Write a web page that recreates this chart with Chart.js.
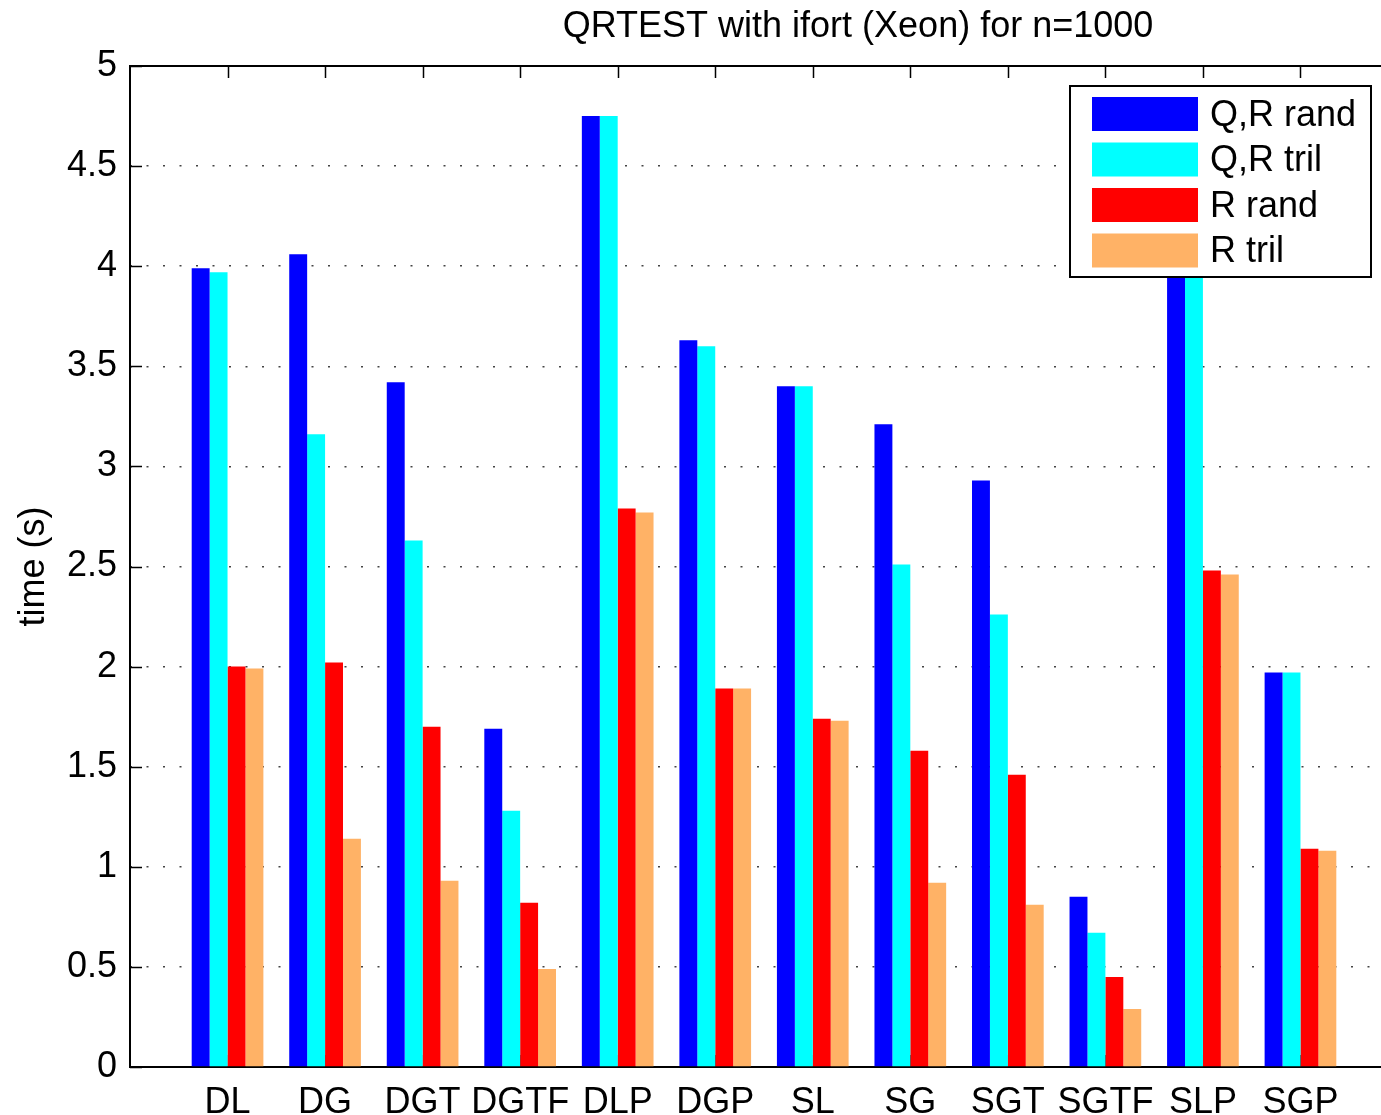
<!DOCTYPE html>
<html>
<head>
<meta charset="utf-8">
<title>QRTEST with ifort (Xeon) for n=1000</title>
<script src="https://cdn.jsdelivr.net/npm/chart.js@4.4.1/dist/chart.umd.min.js"></script>
<style>
  html, body { margin: 0; padding: 0; background: #fff; overflow: hidden; }
  #wrap { position: absolute; left: 0; top: 0; width: 1420px; height: 1115px; }
</style>
</head>
<body>
<div id="wrap"><canvas id="qrChart"></canvas></div>
<script>
// data
const categories = ["DL", "DG", "DGT", "DGTF", "DLP", "DGP", "SL", "SG", "SGT", "SGTF", "SLP", "SGP"];
const qrRand = [3.99, 4.06, 3.42, 1.69, 4.75, 3.63, 3.40, 3.21, 2.93, 0.85, 4.40, 1.97];
const qrTril = [3.97, 3.16, 2.63, 1.28, 4.75, 3.60, 3.40, 2.51, 2.26, 0.67, 4.40, 1.97];
const rRand = [2.00, 2.02, 1.70, 0.82, 2.79, 1.89, 1.74, 1.58, 1.46, 0.45, 2.48, 1.09];
const rTril = [1.99, 1.14, 0.93, 0.49, 2.77, 1.89, 1.73, 0.92, 0.81, 0.29, 2.46, 1.08];
const yTicks = [0, 0.5, 1, 1.5, 2, 2.5, 3, 3.5, 4, 4.5, 5];

const FONT = '"Liberation Sans", Arial, Helvetica, sans-serif';
const toPoints = (vals) => vals.map((v, i) => ({ x: i + 1, y: v }));

// matlab style box + inward ticks, drawn under the bars
const frame = {
  id: "frame",
  beforeDatasetsDraw(chart) {
    const { ctx, chartArea: a, scales } = chart;
    ctx.save();
    ctx.strokeStyle = "#000";
    ctx.lineWidth = 1.5;
    ctx.beginPath();
    scales.y.ticks.forEach((t) => {
      const y = Math.round(scales.y.getPixelForValue(t.value)) + 0.5;
      ctx.moveTo(a.left, y);
      ctx.lineTo(a.left + 12, y);
      ctx.moveTo(a.right, y);
      ctx.lineTo(a.right - 12, y);
    });
    scales.x.ticks.forEach((t) => {
      const x = Math.round(scales.x.getPixelForValue(t.value)) + 0.5;
      ctx.moveTo(x, a.top);
      ctx.lineTo(x, a.top + 12);
      ctx.moveTo(x, a.bottom);
      ctx.lineTo(x, a.bottom - 12);
    });
    ctx.stroke();
    ctx.lineWidth = 2;
    ctx.strokeRect(a.left, a.top, a.right - a.left, a.bottom - a.top);
    ctx.restore();
  },
  afterDraw(chart) {
    const { ctx, chartArea: a } = chart;
    ctx.save();
    ctx.fillStyle = "#000";
    ctx.font = "36px " + FONT;
    ctx.textAlign = "center";
    ctx.textBaseline = "middle";
    ctx.fillText("QRTEST with ifort (Xeon) for n=1000", 858, 27);

    ctx.translate(34, (a.top + a.bottom) / 2);
    ctx.rotate(-Math.PI / 2);
    ctx.fillText("time (s)", 0, 0);
    ctx.restore();

    // legend box
    const bw = 301, bh = 191;
    const bx = a.right - 27 - bw;
    const by = a.top + 20;
    ctx.save();
    ctx.fillStyle = "#fff";
    ctx.fillRect(bx, by, bw, bh);
    ctx.strokeStyle = "#000";
    ctx.lineWidth = 2;
    ctx.strokeRect(bx, by, bw, bh);
    ctx.font = "36px " + FONT;
    ctx.textBaseline = "middle";
    ctx.textAlign = "left";
    chart.data.datasets.forEach((ds, i) => {
      const sy = by + 11 + i * 45.5;
      ctx.fillStyle = ds.backgroundColor;
      ctx.fillRect(bx + 22, sy, 106, 34);
      ctx.fillStyle = "#000";
      ctx.fillText(ds.label, bx + 140, sy + 19);
    });
    ctx.restore();
  },
};

new Chart(document.getElementById("qrChart"), {
  type: "bar",
  data: {
    datasets: [
      { label: "Q,R rand", data: toPoints(qrRand), backgroundColor: "#0000ff" },
      { label: "Q,R tril", data: toPoints(qrTril), backgroundColor: "#00ffff" },
      { label: "R rand", data: toPoints(rRand), backgroundColor: "#ff0000" },
      { label: "R tril", data: toPoints(rTril), backgroundColor: "#ffb266" },
    ],
  },
  options: {
    responsive: true,
    maintainAspectRatio: false,
    animation: false,
    layout: { padding: { top: 66, right: 22, left: 0, bottom: 0 } },
    datasets: { bar: { categoryPercentage: 0.735, barPercentage: 1.0, borderWidth: 0 } },
    plugins: {
      legend: { display: false },
      tooltip: { enabled: false },
      title: { display: false },
    },
    scales: {
      x: {
        type: "linear",
        min: 0,
        max: 13,
        offset: false,
        grid: { display: false, drawTicks: false, offset: false },
        border: { display: false },
        afterBuildTicks: (s) => {
          s.ticks = categories.map((c, i) => ({ value: i + 1 }));
        },
        afterFit: (s) => {
          s.height = 48;
        },
        ticks: {
          autoSkip: false,
          maxRotation: 0,
          padding: 14,
          color: "#000",
          font: { family: FONT, size: 36 },
          callback: (v) => categories[v - 1] || "",
        },
      },
      y: {
        min: 0,
        max: 5,
        grid: { color: "#444", lineWidth: 1.5, drawTicks: false },
        border: { display: false, dash: [2, 14.5] },
        afterBuildTicks: (s) => {
          s.ticks = yTicks.map((v) => ({ value: v }));
        },
        afterFit: (s) => {
          s.width = 130;
        },
        ticks: {
          padding: 13,
          color: "#000",
          font: { family: FONT, size: 36 },
          callback: (v) => String(v),
        },
      },
    },
  },
  plugins: [frame],
});
</script>
</body>
</html>
